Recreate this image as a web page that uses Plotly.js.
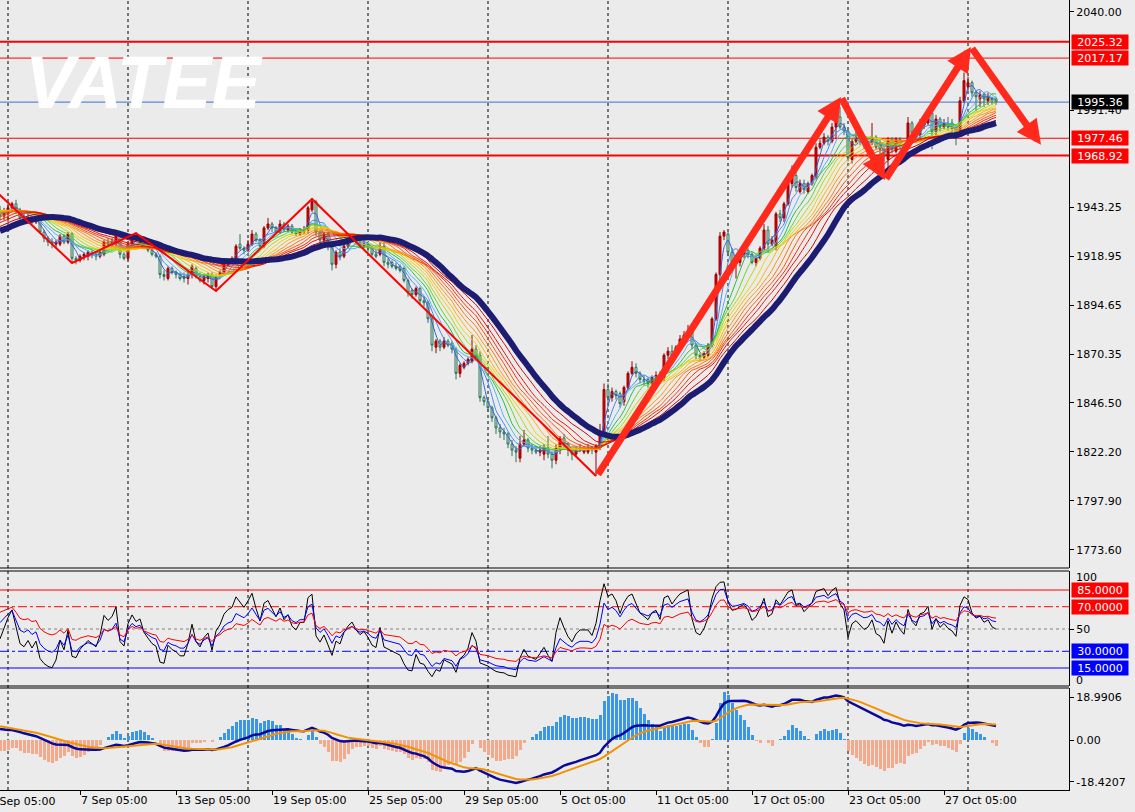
<!DOCTYPE html>
<html>
<head>
<meta charset="utf-8">
<script src="https://cdn.plot.ly/plotly-3.0.1.min.js"></script>
<style>
html,body{margin:0;padding:0;background:#ececec;}
#chart{width:1135px;height:812px;}
</style>
</head>
<body>
<div id="chart"></div>
<script>
// ---------------- data (H4 bars) ----------------
// closes before the first visible bar (only feed the averages / oscillators)
const warmupClose = [
1889,1888,1889,1890,1889,1889,
1890,1893,1895,1894,1896,1895,
1897,1899,1901,1898,1900,1899,
1901,1904,1910,1915,1916,1915,
1917,1919,1917,1915,1917,1917,
1918,1916,1919,1913,1914,1914,
1916,1918,1920,1921,1920,1920,
1921,1923,1928,1934,1937,1937,
1938,1939,1942,1944,1942,1942,
1943,1942,1944,1940,1941,1940,
1941,1942,1944,1941];

const barOpen = [
1942,1939,1940,1943,1945,1942,1938,1937,1938,1936,
1937,1931,1928,1926,1925,1925,1929,1926,1930,1918,
1917,1919,1919,1921,1920,1919,1920,1926,1925,1925,
1929,1920,1918,1925,1929,1926,1928,1924,1922,1920,
1919,1910,1908,1913,1911,1910,1909,1908,1910,1913,
1909,1907,1908,1910,1904,1909,1911,1915,1917,1918,
1925,1923,1922,1925,1930,1927,1924,1933,1935,1933,
1931,1935,1932,1934,1931,1930,1931,1932,1942,1946,
1931,1927,1930,1924,1915,1921,1919,1924,1927,1929,
1926,1924,1925,1923,1920,1920,1924,1916,1916,1914,
1914,1913,1907,1902,1900,1903,1897,1896,1888,1874,
1877,1874,1877,1876,1873,1861,1864,1866,1867,1873,
1870,1849,1847,1844,1839,1834,1832,1831,1826,1823,
1819,1826,1828,1824,1823,1822,1821,1824,1821,1818,
1823,1829,1826,1823,1821,1823,1822,1822,1824,1822,
1825,1832,1853,1849,1852,1851,1847,1854,1861,1864,
1861,1858,1858,1856,1859,1860,1859,1870,1872,1870,
1874,1878,1880,1882,1875,1870,1869,1870,1875,1888,
1910,1929,1930,1921,1916,1916,1920,1922,1920,1916,
1918,1923,1932,1925,1924,1940,1938,1945,1955,1959,
1951,1955,1951,1955,1958,1973,1975,1978,1976,1983,
1988,1983,1981,1967,1976,1978,1976,1974,1975,1978,
1975,1972,1967,1977,1971,1977,1974,1975,1985,1980,
1979,1984,1985,1990,1981,1987,1983,1985,1985,1983,
1981,1996,2003,2005,2000,1997,1999,1996,1997,1997];

const barHigh = [
1944,1943,1945,1946,1947,1943,1940,1940,1939,1939,
1938,1932,1929,1928,1927,1930,1930,1931,1931,1919,
1920,1921,1922,1922,1921,1922,1927,1928,1928,1931,
1930,1921,1926,1930,1931,1929,1929,1925,1923,1921,
1920,1912,1914,1914,1912,1911,1911,1912,1915,1914,
1911,1910,1911,1911,1910,1912,1916,1918,1919,1925,
1930,1924,1927,1932,1931,1928,1934,1938,1936,1934,
1937,1936,1935,1935,1932,1933,1934,1944,1947.4,1947,
1932,1931,1931,1925,1922,1923,1925,1928,1930,1930,
1928,1927,1926,1924,1922,1926,1926,1918,1917,1916,
1915,1914,1908,1903,1904,1904,1899,1897,1889,1878,
1878,1879,1878,1877,1874,1866,1867,1869,1880,1875,
1872,1850,1848,1845,1840,1836,1834,1832,1828,1825,
1830,1833,1829,1826,1825,1825,1826,1830,1822,1826,
1830,1831,1827,1824,1825,1826,1825,1826,1825,1826,
1836,1856,1856,1854,1853,1852,1855,1862,1867,1866,
1862,1860,1859,1860,1862,1862,1871,1874,1875,1875,
1880,1882,1885,1883,1876,1871,1872,1876,1889,1911,
1931,1932,1931,1923,1919,1922,1925,1923,1921,1919,
1924,1935,1934,1929,1941,1942,1946,1957,1964,1961,
1957,1957,1956,1960,1975,1977,1980,1979,1985,1990,
1993,1985,1982,1977,1983,1980,1978,1977,1985,1979,
1977,1973,1978,1978,1978,1978,1975,1988,1986,1982,
1987,1988,1992,1991,1989,1988,1987,1988,1987,1984,
1998,2010,2008,2006,2001,2001,2000,2000,1998,1998];

const barLow = [
1937,1937,1936,1941,1940,1937,1936,1936,1935,1935,
1930,1926,1924,1923,1923,1924,1925,1925,1916,1915,
1916,1917,1917,1918,1917,1918,1919,1924,1924,1924,
1918,1917,1917,1924,1926,1925,1923,1921,1919,1918,
1908,1907,1907,1910,1908,1907,1906,1905,1908,1908,
1906,1905,1906,1903,1902,1908,1910,1914,1916,1917,
1922,1920,1921,1924,1926,1923,1923,1932,1931,1930,
1930,1931,1931,1930,1929,1929,1930,1930,1941,1929,
1925,1926,1922,1912,1913,1917,1918,1923,1926,1925,
1923,1923,1921,1919,1918,1919,1914,1913,1913,1912,
1911,1906,1899,1898,1899,1895,1894,1886,1872,1871,
1872,1873,1874,1871,1858,1859,1863,1865,1866,1867,
1847,1845,1842,1837,1831,1829,1828,1824,1820,1817,
1817,1825,1822,1821,1821,1820,1818,1819,1814,1816,
1821,1824,1820,1818,1820,1822,1821,1821,1821,1810.2,
1823,1830,1846,1847,1848,1844,1845,1853,1860,1859,
1856,1855,1854,1853,1857,1857,1857,1868,1869,1869,
1873,1877,1879,1873,1868,1867,1868,1869,1874,1887,
1909,1927,1919,1913,1908,1914,1918,1918,1915,1914,
1917,1922,1921,1924,1922,1936,1936,1944,1953,1951,
1950,1950,1950,1954,1957,1972,1974,1974,1975,1977,
1982,1979,1966,1965,1975,1974,1972,1973,1974,1972,
1969,1966,1962,1970,1970,1972,1966,1973,1977,1975,
1977,1982,1984,1972,1979,1981,1982,1981,1980,1974,
1979,1995,2001,1998,1991,1993,1993,1994,1994,1994];

const barClose = [
1939,1941,1943,1945,1942,1938,1937,1938,1936,1937,
1931,1928,1926,1925,1926,1929,1926,1930,1918,1917,
1919,1920,1921,1920,1919,1921,1926,1925,1926,1929,
1920,1918,1925,1929,1927,1928,1924,1922,1920,1919,
1910,1909,1913,1911,1910,1908,1908,1910,1914,1909,
1907,1909,1910,1904,1909,1911,1915,1917,1918,1924,
1923,1922,1925,1930,1927,1924,1933,1935,1933,1931,
1935,1932,1934,1931,1930,1932,1932,1943,1946,1931,
1927,1930,1924,1915,1921,1919,1924,1927,1929,1926,
1924,1925,1923,1920,1919,1924,1916,1915,1914,1913,
1912,1907,1901,1900,1903,1897,1896,1888,1875,1877,
1874,1877,1875,1873,1861,1865,1866,1868,1873,1869,
1849,1847,1844,1839,1834,1832,1831,1826,1823,1822,
1826,1828,1824,1823,1822,1823,1824,1821,1818,1824,
1829,1826,1823,1821,1823,1824,1824,1824,1823,1825,
1832,1853,1849,1852,1850,1846,1854,1861,1864,1861,
1858,1857,1856,1859,1860,1858,1870,1872,1870,1874,
1878,1880,1882,1875,1870,1869,1871,1875,1888,1910,
1929,1931,1921,1916,1917,1920,1922,1920,1916,1918,
1923,1932,1925,1927,1940,1938,1945,1955,1959,1953,
1955,1952,1955,1959,1973,1975,1978,1976,1983,1988,
1983,1981,1968,1976,1978,1976,1974,1975,1978,1973,
1972,1969,1977,1972,1977,1974,1972,1985,1980,1978,
1985,1986,1990,1981,1987,1983,1985,1983,1982,1980,
1996,2006,2005,2000,1998,1999,1997,1998,1996,1995.36];

const tickBars = [20,44,68,92,116,140,164,188,212,236];
const tickLabels = ['7 Sep 05:00','13 Sep 05:00','19 Sep 05:00','25 Sep 05:00','29 Sep 05:00',
                    '5 Oct 05:00','11 Oct 05:00','17 Oct 05:00','23 Oct 05:00','27 Oct 05:00'];
const firstTickBar = -4;
const firstTickLabel = '1 Sep 05:00';
const gridBars = [2,32,62,92,122,152,182,212,242];
const priceTicks = [2040.00,1991.40,1943.25,1918.95,1894.65,1870.35,1846.50,1822.20,1797.90,1773.60];
const redLevels = [2025.32,2017.17,1977.46,1968.92];
const lastPrice = 1995.36;
const zigzagBars = [-2,18,34,54,78,149];
const zigzagPrices = [1953,1915.7,1930.5,1901.8,1947.4,1810.2];
const arrowBars = [149.25,210.25,221.25,242.75,260.25];
const arrowPrices = [1810.2,1997.9,1956.8,2022.7,1974.2];
const oscLevels = [85,70,50,30,15];
const oscTicks = [100,50,0];
const macdTicks = [18.9906,0,-18.4207];

// ---------------- indicators ----------------
const allClose = warmupClose.concat(barClose);
const off = warmupClose.length;
const bars = barClose.map((_, i) => i);
const vis = a => a.slice(off);
function ema(src, n){const a=2/(n+1);const o=[src[0]];for(let i=1;i<src.length;i++)o.push(a*src[i]+(1-a)*o[i-1]);return o;}
function sma(src, n){const o=[];let s=0;for(let i=0;i<src.length;i++){s+=src[i];if(i>=n)s-=src[i-n];o.push(s/Math.min(i+1,n));}return o;}
function rsi(src, n){const o=[50];let ag=0,al=0;for(let i=1;i<src.length;i++){const d=src[i]-src[i-1];const g=Math.max(d,0),l=Math.max(-d,0);
  if(i<=n){ag+=g/n;al+=l/n;}else{ag=(ag*(n-1)+g)/n;al=(al*(n-1)+l)/n;}o.push(al===0?100:100-100/(1+ag/al));}return o;}

const ribbon = [[3,'#2f5fd8'],[5,'#4088ec'],[7,'#58b0f4'],[9,'#1fbf3a'],[11,'#62d42a'],[13,'#b8d800'],
  [15,'#ecd400'],[17,'#ffb300'],[19,'#ff9500'],[21,'#ff7300'],[23,'#ff5000'],[25,'#f52a00'],[27,'#e80d00'],[30,'#cc0000']];

const traces = [];
ribbon.forEach(([p,c]) => traces.push({type:'scatter',mode:'lines',x:bars,y:vis(sma(allClose,p)),
  line:{color:c,width:1,shape:'spline',smoothing:0.6},xaxis:'x',yaxis:'y',hoverinfo:'skip'}));
traces.push({type:'scatter',mode:'lines',x:bars,y:vis(sma(allClose,34)),line:{color:'#1c1c72',width:6,shape:'spline',smoothing:0.8},xaxis:'x',yaxis:'y',hoverinfo:'skip'});
traces.push({type:'candlestick',x:bars,open:barOpen,high:barHigh,low:barLow,close:barClose,xaxis:'x',yaxis:'y',
  whiskerwidth:0,
  increasing:{line:{color:'#9a0000',width:1},fillcolor:'#e00000'},
  decreasing:{line:{color:'#2e7358',width:1},fillcolor:'#d9eedb'},hoverinfo:'skip'});
traces.push({type:'scatter',mode:'lines',x:zigzagBars,y:zigzagPrices,line:{color:'#ff0000',width:2},xaxis:'x',yaxis:'y',hoverinfo:'skip'});

// oscillator panel
[[6,'#000000'],[12,'#0000ff'],[24,'#ff0000']].forEach(([p,c]) => traces.push({type:'scatter',mode:'lines',x:bars,
  y:vis(rsi(allClose,p)),line:{color:c,width:1},xaxis:'x',yaxis:'y2',hoverinfo:'skip'}));

// MACD panel
const e12 = ema(allClose,12), e26 = ema(allClose,26);
const macd = e12.map((v,i)=>v-e26[i]);
const signal = ema(macd,9);
const hist = macd.map((v,i)=>4*(v-signal[i]));
const histVis = vis(hist);
traces.push({type:'bar',x:bars,y:histVis,width:0.75,xaxis:'x',yaxis:'y3',
  marker:{color:histVis.map(v=>v>=0?'#3a96e8':'#f6a98a'),line:{width:0}},hoverinfo:'skip'});
traces.push({type:'scatter',mode:'lines',x:bars,y:vis(macd),line:{color:'#0a0a9a',width:2.5},xaxis:'x',yaxis:'y3',hoverinfo:'skip'});
traces.push({type:'scatter',mode:'lines',x:bars,y:vis(signal),line:{color:'#f39200',width:2},xaxis:'x',yaxis:'y3',hoverinfo:'skip'});

// ---------------- layout ----------------
const PH = 790;
const dMain = [1-568/PH, 1], dOsc = [1-686/PH, 1-571/PH], dMacd = [0, 1-688/PH];
const xRange = [0, 267.25];
const font = {family:'DejaVu Sans, sans-serif', size:11, color:'#000'};

const shapes = [];
gridBars.forEach(g => shapes.push({type:'line',xref:'x',yref:'paper',x0:g,x1:g,y0:0,y1:1,layer:'below',
  line:{color:'#000',width:1,dash:'3px,3px'}}));
redLevels.forEach((v,i) => shapes.push({type:'line',xref:'paper',yref:'y',x0:0,x1:1,y0:v,y1:v,layer:'below',
  line:{color:'#ff0000',width:(i===0||i===3)?2:1}}));
shapes.push({type:'line',xref:'paper',yref:'y',x0:0,x1:1,y0:lastPrice,y1:lastPrice,layer:'below',line:{color:'#3f6fd0',width:1}});
const oscStyle = [['#ff0000','solid'],['#ff0000','dashdot'],['#808080','dot'],['#0000ff','dashdot'],['#0000ff','solid']];
oscLevels.forEach((v,i) => shapes.push({type:'line',xref:'paper',yref:'y2',x0:0,x1:1,y0:v,y1:v,layer:'below',
  line:{color:oscStyle[i][0],width:1,dash:oscStyle[i][1]}}));
[dMain[0],dOsc[1],dOsc[0],dMacd[1]].forEach(y => shapes.push({type:'line',xref:'paper',yref:'paper',x0:0,x1:1,y0:y,y1:y,
  layer:'above',line:{color:'#000',width:1}}));

const annotations = [];
annotations.push({xref:'paper',yref:'paper',x:144/1069,y:1-82/PH,xanchor:'center',yanchor:'middle',showarrow:false,
  text:'<b><i>VATEE</i></b>',font:{family:'Liberation Sans, Arial, sans-serif',size:74,color:'#ffffff'}});
function box(yref,val,txt,bg){return {xref:'paper',x:1,xshift:2,xanchor:'left',yref:yref,y:val,yanchor:'middle',showarrow:false,
  text:txt,bgcolor:bg,width:54,height:12,borderpad:1,align:'center',font:{family:font.family,size:11,color:'#ffffff'}};}
redLevels.forEach(v => annotations.push(box('y',v,v.toFixed(2),'#ff0000')));
annotations.push(box('y',lastPrice,lastPrice.toFixed(2),'#000000'));
oscLevels.forEach((v,i) => { if (v!==50) annotations.push(box('y2',v,v.toFixed(4), v>50?'#ff0000':'#0000ff')); });
annotations.push({xref:'paper',x:1,xshift:5,xanchor:'left',yref:'y2',y:oscTicks[0],yshift:-4,showarrow:false,text:String(oscTicks[0]),font:font});
annotations.push({xref:'paper',x:1,xshift:5,xanchor:'left',yref:'y2',y:oscTicks[2],yshift:4,showarrow:false,text:String(oscTicks[2]),font:font});
annotations.push({xref:'paper',yref:'paper',x:(firstTickBar-xRange[0])/(xRange[1]-xRange[0]),xshift:3,y:0,yshift:-3,
  xanchor:'left',yanchor:'top',showarrow:false,text:firstTickLabel,font:font});
for (let i=0;i<arrowBars.length-1;i++){
  annotations.push({xref:'x',yref:'y',axref:'x',ayref:'y',x:arrowBars[i+1],y:arrowPrices[i+1],ax:arrowBars[i],ay:arrowPrices[i],
    showarrow:true,text:'',arrowhead:2,arrowsize:0.7,arrowwidth:7,arrowcolor:'#ff2a1c',standoff:0});
}

const layout = {
  width:1135,height:812,autosize:false,
  margin:{l:0,r:66,t:0,b:22},
  paper_bgcolor:'#ececec',plot_bgcolor:'#ebebeb',
  showlegend:false,font:font,bargap:0,
  xaxis:{domain:[0,1],range:xRange,anchor:'y3',showgrid:false,zeroline:false,showline:true,linecolor:'#000',linewidth:1,
    tickvals:tickBars,ticktext:tickLabels,ticks:'outside',ticklen:4,tickcolor:'#000',ticklabelposition:'outside right',
    rangeslider:{visible:false},tickfont:font,fixedrange:true},
  yaxis:{domain:dMain,range:[1764.62,2045.94],side:'right',anchor:'x',showgrid:false,zeroline:false,showline:true,linecolor:'#000',
    tickvals:priceTicks,ticktext:priceTicks.map(v=>v.toFixed(2)),ticks:'outside',ticklen:4,tickcolor:'#000',tickfont:font,fixedrange:true},
  yaxis2:{domain:dOsc,range:[-1.15,102.05],side:'right',anchor:'x',showgrid:false,zeroline:false,showline:true,linecolor:'#000',
    tickvals:[oscTicks[1]],ticktext:[String(oscTicks[1])],ticks:'outside',ticklen:4,tickcolor:'#000',tickfont:font,fixedrange:true},
  yaxis3:{domain:dMacd,range:[-22.08,22.97],side:'right',anchor:'x',showgrid:false,zeroline:false,showline:true,linecolor:'#000',
    tickvals:macdTicks,ticktext:macdTicks.map(v=>v===0?'0.00':String(v)),ticks:'outside',ticklen:4,tickcolor:'#000',tickfont:font,fixedrange:true},
  shapes:shapes,annotations:annotations
};
Plotly.newPlot('chart',traces,layout,{displayModeBar:false,staticPlot:true});
</script>
</body>
</html>
